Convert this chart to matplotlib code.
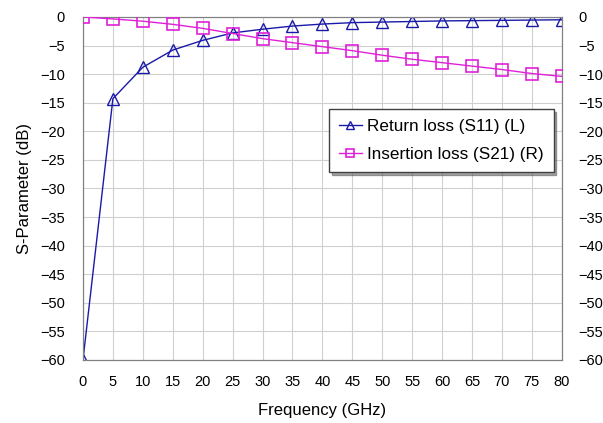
import matplotlib
matplotlib.use("Agg")
import matplotlib.pyplot as plt

freq = [0, 5, 10, 15, 20, 25, 30, 35, 40, 45, 50, 55, 60, 65, 70, 75, 80]
s11 = [-60, -14.3, -8.8, -5.8, -4.1, -2.8, -2.15, -1.6, -1.25, -1.0, -0.9, -0.8, -0.7, -0.65, -0.6, -0.55, -0.5]
s21 = [0, -0.35, -0.75, -1.3, -2.0, -2.9, -3.8, -4.5, -5.2, -5.9, -6.7, -7.4, -8.0, -8.6, -9.2, -9.9, -10.4]
yticks = list(range(0, -65, -5))
xticks = list(range(0, 85, 5))

plt.rcParams['font.family'] = ['Liberation Sans', 'DejaVu Sans']

fig = plt.figure(figsize=(6.03, 4.23), dpi=100)
ax = fig.add_axes([0.1376, 0.149, 0.794, 0.811])
ax2 = ax.twinx()

blue = '#1a1aa8'
mag = '#e020d8'
l1, = ax.plot(freq, s11, color=blue, lw=1.0, marker='^', ms=8, mfc='none', mec=blue, mew=1.0,
              label='Return loss (S11) (L)', zorder=3)
l2, = ax2.plot(freq, s21, color=mag, lw=1.0, marker='s', ms=9, mfc='none', mec=mag, mew=1.2,
               label='Insertion loss (S21) (R)', zorder=3)

for a in (ax, ax2):
    a.set_ylim(-60, 0)
    a.set_yticks(yticks)
    a.set_xlim(0, 80)
    a.tick_params(length=0, labelsize=10.5)
ax.set_xticks(xticks)
ax.tick_params(axis='x', pad=11)
ax.tick_params(axis='y', pad=13)
ax2.tick_params(axis='y', pad=12)
ax.grid(True, color='#d0d0d0', lw=0.8)
ax.set_axisbelow(True)
for s in list(ax.spines.values()) + list(ax2.spines.values()):
    s.set_color('#808080')
ax.set_xlabel('Frequency (GHz)', fontsize=12, labelpad=10)
ax.set_ylabel('S-Parameter (dB)', fontsize=12, labelpad=6)

leg = ax2.legend(handles=[l1, l2], loc='upper left', bbox_to_anchor=(0.514, 0.732),
                 borderaxespad=0, fontsize=12.3, frameon=True, fancybox=False, shadow=True,
                 handlelength=1.3, handletextpad=0.3, borderpad=0.6, labelspacing=0.75)
leg.get_frame().set_edgecolor('#404040')
leg.get_frame().set_linewidth(1.0)
for h in leg.legend_handles:
    h.set_markersize(6)

fig.savefig('out.png', dpi=100, facecolor='white')
